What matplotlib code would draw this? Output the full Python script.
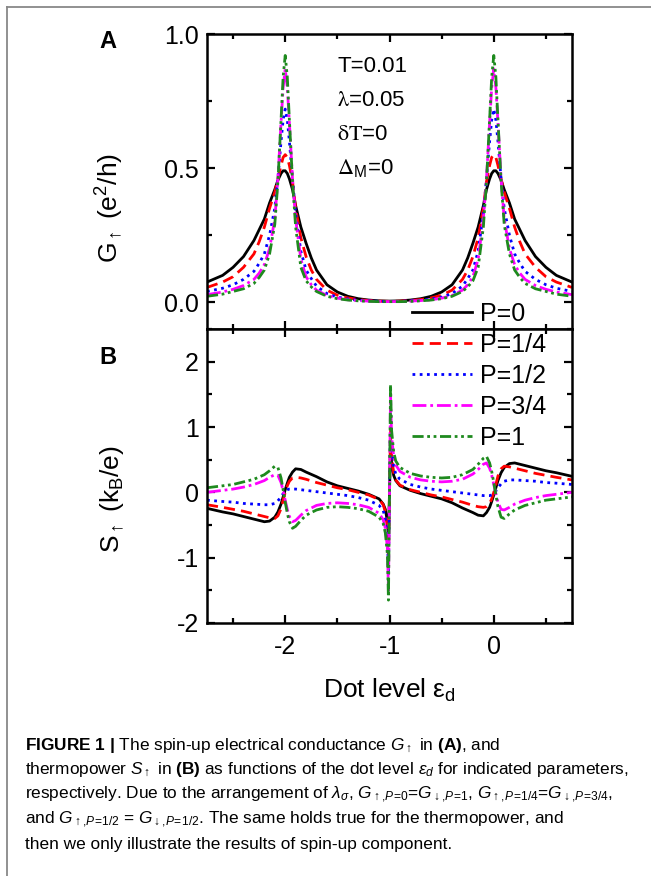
import matplotlib
matplotlib.use("Agg")
import matplotlib.pyplot as plt
from matplotlib.lines import Line2D
from matplotlib.ticker import MultipleLocator

plt.rcParams["font.family"] = ["Liberation Sans", "DejaVu Sans"]
plt.rcParams["axes.unicode_minus"] = False
plt.rcParams["mathtext.fontset"] = "custom"
plt.rcParams["mathtext.rm"] = "Liberation Sans"
plt.rcParams["mathtext.it"] = "Liberation Sans:italic"
plt.rcParams["mathtext.bf"] = "Liberation Sans:bold"

W, H = 651, 876

# ---- data ----
x_g = [-2.75, -2.6, -2.5, -2.4, -2.3, -2.25, -2.2, -2.15, -2.1, -2.07, -2.04, -2.02, -2.0, -1.98, -1.96,
       -1.93, -1.9, -1.85, -1.8, -1.75, -1.7, -1.6, -1.5, -1.4, -1.3, -1.2, -1.1, -1.0,
       -0.9, -0.8, -0.7, -0.6, -0.5, -0.4, -0.3, -0.25, -0.2, -0.15, -0.1, -0.07, -0.04, -0.02, 0.0,
       0.02, 0.04, 0.07, 0.1, 0.15, 0.2, 0.25, 0.3, 0.4, 0.5, 0.6, 0.75]

g_p0 = [0.075, 0.10, 0.13, 0.17, 0.23, 0.27, 0.31, 0.37, 0.42, 0.455, 0.48, 0.49, 0.49, 0.48, 0.46, 0.42, 0.36,
        0.28, 0.22, 0.165, 0.12, 0.065, 0.038, 0.022, 0.013, 0.008, 0.005, 0.004,
        0.005, 0.008, 0.013, 0.022, 0.038, 0.065, 0.12, 0.165, 0.22, 0.28, 0.36, 0.42, 0.46, 0.48, 0.49, 0.49,
        0.48, 0.455, 0.42, 0.37, 0.31, 0.27, 0.23, 0.17, 0.13, 0.10, 0.075]
g_p14 = [0.055, 0.075, 0.095, 0.13, 0.18, 0.225, 0.28, 0.35, 0.41, 0.46, 0.51, 0.54, 0.55, 0.54, 0.51, 0.45, 0.35,
         0.24, 0.17, 0.12, 0.085, 0.045, 0.026, 0.016, 0.01, 0.006, 0.004, 0.003,
         0.004, 0.006, 0.01, 0.016, 0.026, 0.045, 0.085, 0.12, 0.17, 0.24, 0.35, 0.45, 0.51, 0.54, 0.55, 0.54,
         0.51, 0.46, 0.41, 0.35, 0.28, 0.225, 0.18, 0.13, 0.095, 0.075, 0.055]
g_p12 = [0.04, 0.052, 0.065, 0.085, 0.115, 0.145, 0.18, 0.25, 0.35, 0.46, 0.6, 0.68, 0.72, 0.68, 0.6, 0.46, 0.33,
         0.19, 0.12, 0.088, 0.06, 0.032, 0.019, 0.012, 0.007, 0.005, 0.003, 0.003,
         0.003, 0.005, 0.007, 0.012, 0.019, 0.032, 0.06, 0.088, 0.12, 0.19, 0.33, 0.46, 0.6, 0.68, 0.72, 0.68,
         0.6, 0.46, 0.35, 0.25, 0.18, 0.145, 0.115, 0.085, 0.065, 0.052, 0.04]
g_p34 = [0.028, 0.038, 0.048, 0.062, 0.085, 0.108, 0.14, 0.2, 0.31, 0.46, 0.67, 0.8, 0.87, 0.8, 0.67, 0.46, 0.31,
         0.16, 0.095, 0.065, 0.045, 0.025, 0.015, 0.009, 0.006, 0.004, 0.003, 0.002,
         0.003, 0.004, 0.006, 0.009, 0.015, 0.025, 0.045, 0.065, 0.095, 0.16, 0.31, 0.46, 0.67, 0.8, 0.87, 0.8,
         0.67, 0.46, 0.31, 0.2, 0.14, 0.108, 0.085, 0.062, 0.048, 0.038, 0.028]
g_p1 = [0.022, 0.03, 0.04, 0.05, 0.07, 0.092, 0.12, 0.18, 0.29, 0.45, 0.68, 0.84, 0.92, 0.84, 0.68, 0.45, 0.28,
        0.13, 0.08, 0.057, 0.04, 0.022, 0.013, 0.008, 0.005, 0.003, 0.002, 0.002,
        0.002, 0.003, 0.005, 0.008, 0.013, 0.022, 0.04, 0.057, 0.08, 0.13, 0.28, 0.45, 0.68, 0.84, 0.92, 0.84,
        0.68, 0.45, 0.29, 0.18, 0.12, 0.092, 0.07, 0.05, 0.04, 0.03, 0.022]

x_s = [-2.75, -2.6, -2.5, -2.4, -2.3, -2.2, -2.15, -2.1, -2.07, -2.04, -2.02, -2.0, -1.98, -1.96,
       -1.93, -1.9, -1.85, -1.8, -1.7, -1.6, -1.5, -1.4, -1.3, -1.2, -1.1, -1.06, -1.04, -1.02, -1.01, -1.0,
       -0.99, -0.98, -0.96, -0.94, -0.9, -0.8, -0.7, -0.6, -0.5, -0.4, -0.3, -0.2, -0.15, -0.1, -0.07,
       -0.04, -0.02, 0.0, 0.02, 0.04, 0.07, 0.1, 0.15, 0.2, 0.3, 0.4, 0.5, 0.6, 0.75]

s_p0 = [-0.245, -0.3, -0.33, -0.37, -0.41, -0.45, -0.44, -0.38, -0.3, -0.18, -0.07, 0.04, 0.14, 0.23, 0.31,
        0.36, 0.35, 0.31, 0.24, 0.16, 0.1, 0.06, 0.02, -0.03, -0.1, -0.18, -0.26, -0.45, -0.7, 0.0,
        0.7, 0.45, 0.26, 0.18, 0.1, 0.03, -0.02, -0.06, -0.1, -0.16, -0.24, -0.31, -0.35, -0.36, -0.31,
        -0.23, -0.14, -0.04, 0.07, 0.18, 0.3, 0.38, 0.44, 0.45, 0.41, 0.37, 0.33, 0.3, 0.245]
s_p14 = [-0.19, -0.23, -0.26, -0.29, -0.33, -0.37, -0.39, -0.4, -0.36, -0.25, -0.12, 0.0, 0.1, 0.17, 0.22,
         0.23, 0.22, 0.2, 0.15, 0.11, 0.07, 0.04, 0.0, -0.04, -0.11, -0.19, -0.3, -0.55, -1.0, 0.0,
         1.0, 0.55, 0.3, 0.19, 0.11, 0.04, 0.0, -0.04, -0.07, -0.11, -0.15, -0.2, -0.22, -0.23, -0.22,
         -0.17, -0.1, 0.0, 0.12, 0.25, 0.36, 0.4, 0.39, 0.37, 0.33, 0.29, 0.26, 0.23, 0.19]
s_p12 = [-0.12, -0.14, -0.15, -0.17, -0.18, -0.19, -0.19, -0.17, -0.13, -0.07, -0.02, 0.02, 0.04, 0.05, 0.05,
         0.05, 0.04, 0.03, 0.01, -0.01, -0.03, -0.05, -0.08, -0.12, -0.2, -0.28, -0.4, -0.7, -1.2, 0.0,
         1.2, 0.7, 0.4, 0.28, 0.2, 0.12, 0.08, 0.05, 0.03, 0.01, -0.01, -0.03, -0.04, -0.05, -0.05,
         -0.05, -0.04, -0.02, 0.02, 0.07, 0.13, 0.17, 0.19, 0.19, 0.18, 0.17, 0.15, 0.14, 0.12]
s_p34 = [0.0, 0.03, 0.05, 0.08, 0.12, 0.18, 0.23, 0.27, 0.26, 0.15, 0.02, -0.12, -0.26, -0.37, -0.45,
         -0.43, -0.35, -0.28, -0.2, -0.17, -0.16, -0.17, -0.19, -0.23, -0.32, -0.42, -0.55, -0.85, -1.5, 0.0,
         1.5, 0.85, 0.55, 0.42, 0.32, 0.23, 0.19, 0.17, 0.16, 0.17, 0.2, 0.28, 0.35, 0.43, 0.45,
         0.37, 0.26, 0.12, -0.02, -0.15, -0.26, -0.27, -0.23, -0.18, -0.12, -0.08, -0.05, -0.03, 0.0]
s_p1 = [0.07, 0.1, 0.12, 0.16, 0.2, 0.27, 0.33, 0.4, 0.38, 0.22, 0.04, -0.15, -0.32, -0.45, -0.55,
        -0.52, -0.43, -0.35, -0.27, -0.23, -0.22, -0.23, -0.25, -0.29, -0.38, -0.48, -0.62, -0.95, -1.65, 0.0,
        1.65, 0.95, 0.62, 0.48, 0.38, 0.29, 0.25, 0.23, 0.22, 0.23, 0.27, 0.35, 0.43, 0.52, 0.55,
        0.45, 0.32, 0.15, -0.04, -0.22, -0.38, -0.4, -0.33, -0.27, -0.2, -0.16, -0.12, -0.1, -0.07]

labels = ["P=0", "P=1/4", "P=1/2", "P=3/4", "P=1"]
g_series = [g_p0, g_p14, g_p12, g_p34, g_p1]
s_series = [s_p0, s_p14, s_p12, s_p34, s_p1]

colors = ["black", "#ff0000", "#0000ff", "#ff00ff", "#1e8a1e"]
styles = ["-", (0, (4, 2.2)), (0, (1, 1.6)), (0, (5, 1.4, 1, 1.4)), (0, (4, 1.3, 1, 1.3, 1, 1.3))]


def fx(x):
    return x / W


def fy(y):
    return 1 - y / H


fig = plt.figure(figsize=(W / 100, H / 100), dpi=100)
ax1 = fig.add_axes([fx(207), fy(329), fx(572 - 207), (329 - 34) / H])
ax2 = fig.add_axes([fx(207), fy(623), fx(572 - 207), (623 - 329) / H], sharex=ax1)

for g, c, ls, lab in zip(g_series, colors, styles, labels):
    ax1.plot(x_g, g, color=c, ls=ls, lw=2.0, label=lab)
for s, c, ls in zip(s_series, colors, styles):
    ax2.plot(x_s, s, color=c, ls=ls, lw=2.0)

ax1.set_xlim(-2.75, 0.75)
ax1.set_ylim(-0.1, 1.0)
ax2.set_ylim(-2, 2.5)

ax1.set_yticks([0.0, 0.5, 1.0])
ax1.set_yticklabels(["0.0", "0.5", "1.0"])
ax1.yaxis.set_minor_locator(MultipleLocator(0.25))
ax2.set_yticks([-2, -1, 0, 1, 2])
ax2.yaxis.set_minor_locator(MultipleLocator(0.5))
ax2.set_xticks([-2, -1, 0])
ax2.xaxis.set_minor_locator(MultipleLocator(0.5))
ax1.tick_params(labelbottom=False)

for ax in (ax1, ax2):
    for sp in ax.spines.values():
        sp.set_linewidth(1.8)
    ax.tick_params(which="both", direction="in", top=True, right=True, width=1.6)
    ax.tick_params(which="major", length=6, labelsize=18, pad=6)
    ax.tick_params(which="minor", length=3.5)
ax2.tick_params(axis="x", which="major", pad=9)

# axis labels
fig.text(fx(110), fy(208), r"G$_{\uparrow}$ (e$^{\mathregular{2}}$/h)", rotation=90,
         ha="center", va="center", fontsize=19)
fig.text(fx(112), fy(499), r"S$_{\uparrow}$ (k$_{\mathregular{B}}$/e)", rotation=90,
         ha="center", va="center", fontsize=19)
fig.text(fx(389), fy(690), r"Dot level $\mathregular{\varepsilon_d}$", ha="center", va="center",
         fontsize=19, math_fontfamily="dejavusans")

# panel letters
fig.text(fx(108), fy(41), "A", fontsize=17, fontweight="bold", ha="center", va="center")
fig.text(fx(108), fy(357), "B", fontsize=17, fontweight="bold", ha="center", va="center")

# parameters
fig.text(fx(337), fy(67), "T=0.01", fontsize=16, ha="left", va="center")
fig.text(fx(337), fy(101), r"$\mathrm{\lambda}$=0.05", fontsize=16, ha="left", va="center",
         math_fontfamily="stix")
fig.text(fx(337), fy(135), r"$\mathrm{\delta T}$=0", fontsize=16, ha="left", va="center",
         math_fontfamily="stix")
fig.text(fx(337), fy(168), r"$\mathrm{\Delta}_{\mathregular{M}}$=0", fontsize=16, ha="left",
         va="center", math_fontfamily="stix")

# legend spanning both panels
handles = [Line2D([], [], color=c, ls=ls, lw=2.0) for c, ls in zip(colors, styles)]
fig.legend(handles, labels, loc="upper left", bbox_to_anchor=(fx(412), fy(302)),
           frameon=False, fontsize=18, handlelength=2.4, handletextpad=0.3,
           labelspacing=0.28, borderpad=0, borderaxespad=0)

# caption
cap = [
    r"$\mathbf{FIGURE\ 1\ |}$ The spin-up electrical conductance $G_{\uparrow}$ in $\mathbf{(A)}$, and",
    r"thermopower $S_{\uparrow}$ in $\mathbf{(B)}$ as functions of the dot level $\varepsilon_d$ for indicated parameters,",
    r"respectively. Due to the arrangement of $\lambda_\sigma$, $G_{\uparrow,\!P\!=\!0}$=$G_{\downarrow,\!P\!=\!1}$, "
    r"$G_{\uparrow,\!P\!=\!1/4}$=$G_{\downarrow,\!P\!=\!3/4}$,",
    r"and $G_{\uparrow,\!P\!=\!1/2}$ = $G_{\downarrow,\!P\!=\!1/2}$. The same holds true for the thermopower, and",
    "then we only illustrate the results of spin-up component.",
]
cap_y = [746, 770, 795, 820, 845]
for line, yy in zip(cap, cap_y):
    fig.text(fx(25), fy(yy), line, fontsize=12.4, ha="left", va="center")

# page frame lines
fig.add_artist(Line2D([fx(7), 1], [fy(7), fy(7)], color="#888888", lw=1.3))
fig.add_artist(Line2D([fx(7), fx(7)], [fy(7), 0], color="#888888", lw=1.3))

fig.savefig("out.png", dpi=100)
